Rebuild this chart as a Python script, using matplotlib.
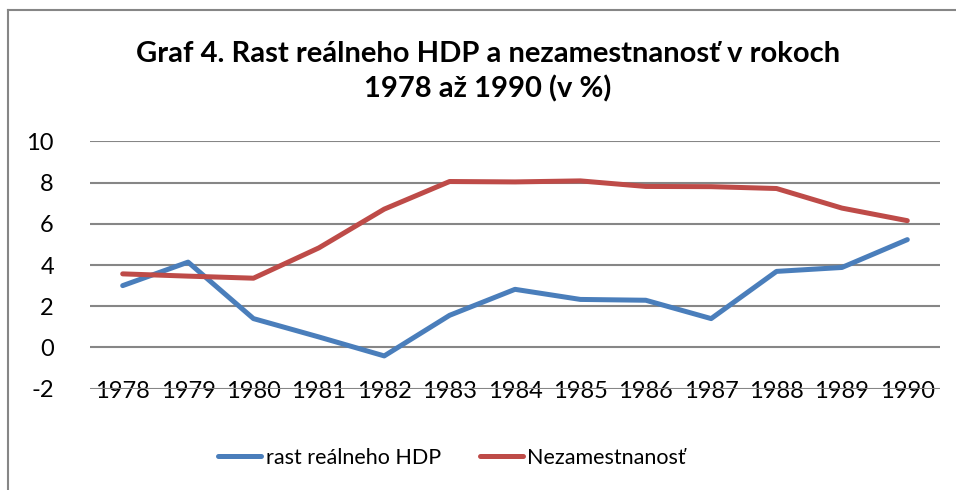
import matplotlib
matplotlib.use("Agg")
import matplotlib.pyplot as plt
from matplotlib.lines import Line2D

years = ["1978", "1979", "1980", "1981", "1982", "1983", "1984",
         "1985", "1986", "1987", "1988", "1989", "1990"]
hdp = [3.0, 4.14, 1.4, 0.51, -0.41, 1.56, 2.82, 2.33, 2.29, 1.4, 3.69, 3.88, 5.23]
nezam = [3.57, 3.46, 3.36, 4.83, 6.71, 8.05, 8.03, 8.08, 7.81, 7.8, 7.71, 6.76, 6.15]
series_names = ["rast reálneho HDP", "Nezamestnanosť"]
title = "Graf 4. Rast reálneho HDP a nezamestnanosť v rokoch\n1978 až 1990 (v %)"
yticks = [-2, 0, 2, 4, 6, 8, 10]

plt.rcParams['font.family'] = ['Lato', 'DejaVu Sans']

W, H = 956, 490
fig = plt.figure(figsize=(W / 100, H / 100), dpi=100)

ax = fig.add_axes([90 / W, 1 - 388.7 / H, (940 - 90) / W, (388.7 - 141.3) / H])
x = list(range(len(years)))
blue = "#4A7EBB"
red = "#BE4B48"
ax.plot(x, hdp, color=blue, lw=3.6, solid_capstyle='round', solid_joinstyle='round', label=series_names[0], zorder=3)
ax.plot(x, nezam, color=red, lw=3.6, solid_capstyle='round', solid_joinstyle='round', label=series_names[1], zorder=3)

ax.set_xlim(-0.5, len(years) - 0.5)
ax.set_ylim(-2, 10)
ax.set_yticks(yticks)
ax.set_yticklabels([str(v) for v in yticks], fontsize=17)
ax.set_xticks(x)
ax.set_xticklabels(years, fontsize=17)
ax.tick_params(axis='y', length=0, pad=26)
ax.tick_params(axis='x', length=0, pad=-5.5)
for s in ax.spines.values():
    s.set_visible(False)
ax.grid(axis='y', color='#868686', lw=1.5, zorder=1)
ax.set_axisbelow(True)

fig.text(488 / W, 1 - 72 / H, title, ha='center', va='center', fontsize=21,
         fontweight='bold', linespacing=1.36)

handles = [Line2D([0], [0], color=blue, lw=3.6, solid_capstyle='round'),
           Line2D([0], [0], color=red, lw=3.6, solid_capstyle='round')]
fig.legend(handles, series_names, loc='center', bbox_to_anchor=(452 / W, 1 - 458 / H),
           ncol=2, frameon=False, fontsize=15.5, handlelength=2.0, handletextpad=0.2,
           columnspacing=1.8)

# chart border (left and top)
fig.add_artist(Line2D([8 / W, 8 / W], [0, 1 - 10 / H], color='#868686', lw=1.5, transform=fig.transFigure))
fig.add_artist(Line2D([8 / W, 1], [1 - 10 / H, 1 - 10 / H], color='#868686', lw=1.5, transform=fig.transFigure))

fig.savefig("out.png", dpi=100)
